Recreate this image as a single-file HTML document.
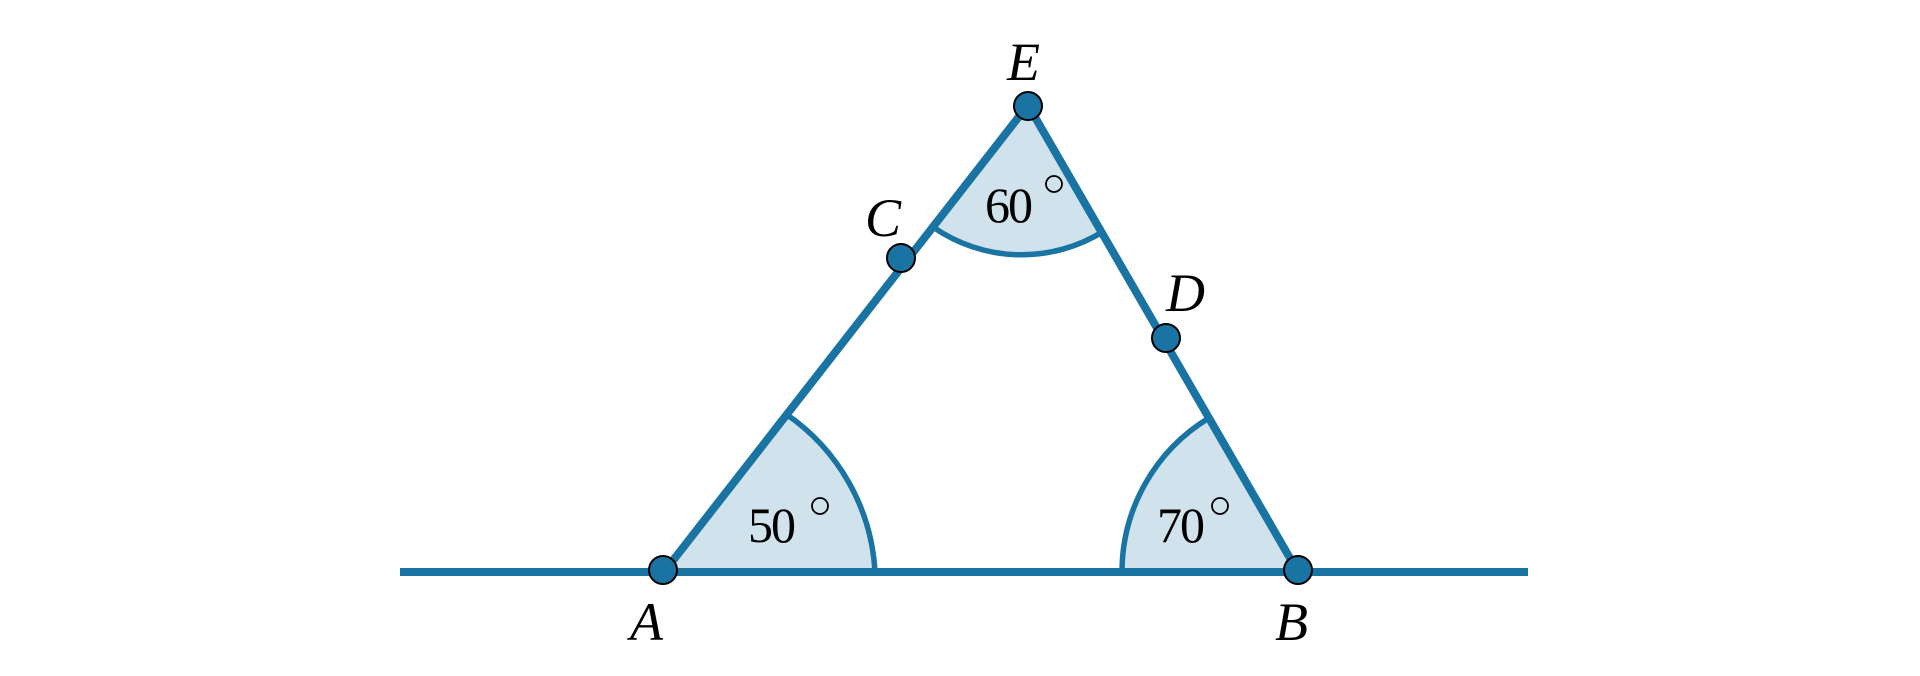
<!DOCTYPE html>
<html><head><meta charset="utf-8"><style>
html,body{margin:0;padding:0;background:#fff;}
svg{display:block;}
text{font-family:"Liberation Serif",serif;fill:#000;}
</style></head><body>
<svg width="1920" height="676" viewBox="0 0 1920 676" xmlns="http://www.w3.org/2000/svg">
<g fill="#d0e3ec" stroke="#1a74a3" stroke-width="5.5">
<path d="M664,572 L786,414 A205,205 0 0 1 875,572 Z" stroke="none"/>
<path d="M786,414 A205,205 0 0 1 875,572" fill="none"/>
<path d="M1301,572 L1209,418 A180,180 0 0 0 1122,572 Z" stroke="none"/>
<path d="M1209,418 A180,180 0 0 0 1122,572" fill="none"/>
<path d="M1028,105 L933,227 A155,155 0 0 0 1104,231 Z" stroke="none"/>
<path d="M933,227 A155,155 0 0 0 1104,231" fill="none"/>
</g>
<g stroke="#1a74a3" stroke-width="8" fill="none">
<line x1="400" y1="572" x2="1528" y2="572"/>
<line x1="664" y1="572" x2="1028" y2="105"/>
<line x1="1028" y1="105" x2="1298" y2="572"/>
</g>
<g fill="#1a74a3" stroke="#000" stroke-width="2">
<circle cx="663" cy="570" r="14"/>
<circle cx="1298" cy="570" r="14"/>
<circle cx="1028" cy="106" r="14"/>
<circle cx="901" cy="258" r="14"/>
<circle cx="1166" cy="338" r="14"/>
</g>
<g font-style="italic" font-size="54">
<text x="630" y="640">A</text>
<text x="1275" y="640">B</text>
<text x="865" y="236">C</text>
<text x="1166" y="311">D</text>
<text x="1007" y="80">E</text>
</g>
<g font-size="50">
<text x="985" y="222" textLength="48">60</text>
<text x="748" y="542" textLength="48">50</text>
<text x="1157" y="542" textLength="48">70</text>
</g>
<g fill="none" stroke="#000" stroke-width="1.8">
<circle cx="1054" cy="184" r="8"/>
<circle cx="820" cy="506" r="8"/>
<circle cx="1220" cy="506" r="8"/>
</g>
</svg>
</body></html>
